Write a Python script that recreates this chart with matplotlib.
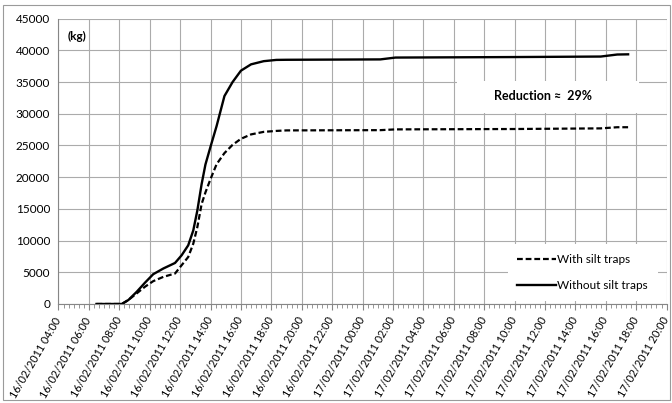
import datetime as dt
import matplotlib
matplotlib.use("Agg")
import matplotlib.pyplot as plt
import matplotlib.dates as mdates
import matplotlib.transforms as mtransforms
from matplotlib.patches import Rectangle

# ---------------- data ---------------- #
times = ["16/02/2011 06:30", "16/02/2011 08:10", "16/02/2011 08:36", "16/02/2011 09:09",
         "16/02/2011 09:41", "16/02/2011 10:14", "16/02/2011 10:54", "16/02/2011 11:40",
         "16/02/2011 12:06", "16/02/2011 12:32", "16/02/2011 12:52", "16/02/2011 13:08",
         "16/02/2011 13:25", "16/02/2011 13:40", "16/02/2011 14:00", "16/02/2011 14:24",
         "16/02/2011 14:55", "16/02/2011 15:27", "16/02/2011 16:00", "16/02/2011 16:40",
         "16/02/2011 17:30", "16/02/2011 18:20", "16/02/2011 19:00", "17/02/2011 01:10",
         "17/02/2011 02:10", "17/02/2011 10:00", "17/02/2011 15:40", "17/02/2011 16:45",
         "17/02/2011 17:28"]

without_traps = [0, 0, 630, 1930, 3340, 4700, 5600, 6470, 7680, 9250, 11600, 14730,
                 18920, 22000, 24800, 28060, 32800, 35000, 36800, 37800, 38300, 38500,
                 38520, 38580, 38870, 38950, 39030, 39350, 39380]

with_traps = [0, 0, 630, 1680, 2710, 3600, 4280, 4810, 6110, 7410, 9510, 12120,
              15780, 17600, 19700, 22050, 23800, 25100, 26050, 26750, 27150, 27300,
              27380, 27420, 27540, 27600, 27700, 27880, 27880]

x_start = "16/02/2011 04:00"
x_end = "17/02/2011 20:00"
y_ticks = list(range(0, 45001, 5000))

fmt = "%d/%m/%Y %H:%M"
t = [dt.datetime.strptime(s, fmt) for s in times]

plt.rcParams['font.family'] = ['Lato', 'DejaVu Sans']

fig = plt.figure(figsize=(6.72, 4.03), dpi=100)
ax = fig.add_axes([0.087, 0.2457, 0.905, 0.7079])

# chart area border
fig.patches.append(Rectangle((3 / 672, 3 / 403), 667 / 672, 395 / 403, transform=fig.transFigure,
                             fill=False, edgecolor='#9a9a9a', linewidth=0.8))

ax.plot(t, with_traps, color='black', linewidth=1.6, linestyle=(0, (2.6, 1.3)),
        label='With silt traps', zorder=3)
ax.plot(t, without_traps, color='black', linewidth=1.7, label='Without silt traps', zorder=3)

ax.set_xlim(dt.datetime.strptime(x_start, fmt), dt.datetime.strptime(x_end, fmt))
ax.set_ylim(0, 45000)
ax.set_yticks(y_ticks)

ax.xaxis.set_major_locator(mdates.HourLocator(byhour=range(0, 24, 2)))
ax.xaxis.set_minor_locator(mdates.MinuteLocator(byminute=[0, 20, 40]))
ax.xaxis.set_major_formatter(mdates.DateFormatter(fmt))
ax.tick_params(axis='x', which='major', labelsize=7.8, length=4, color='#868686', pad=4)
ax.tick_params(axis='x', which='minor', length=3, color='#868686')
ax.tick_params(axis='y', labelsize=8.5, length=0, pad=6)

# rotated date labels, pulled left so their ends sit at the ticks
shift = mtransforms.ScaledTranslation(-5 / 100, 0, fig.dpi_scale_trans)
for lab in ax.get_xticklabels():
    lab.set_rotation(60)
    lab.set_ha('right')
    lab.set_va('top')
    lab.set_rotation_mode('anchor')
    lab.set_transform(lab.get_transform() + shift)

ax.set_axisbelow(True)
ax.grid(True, which='major', color='#ababab', linewidth=0.8)
for s in ['top', 'right']:
    ax.spines[s].set_visible(False)
for s in ['left', 'bottom']:
    ax.spines[s].set_color('#868686')

# white boxes behind annotation and legend
ax.add_patch(Rectangle((0.655, 0.67), 0.30, 0.11, transform=ax.transAxes,
                       facecolor='white', edgecolor='none', zorder=1))
ax.text(0.797, 0.729, 'Reduction \u2248  29%', transform=ax.transAxes, fontsize=9,
        fontweight='bold', ha='center', va='center', zorder=4)
ax.text(0.031, 0.936, '(kg)', transform=ax.transAxes, fontsize=8.5,
        fontweight='bold', ha='center', va='center')

leg = ax.legend(loc='lower right', bbox_to_anchor=(0.985, 0.012), fontsize=8.5,
                frameon=True, fancybox=False, framealpha=1, edgecolor='none',
                handlelength=3.3, handletextpad=0.1, labelspacing=1.3,
                borderaxespad=0, borderpad=0.8)

fig.savefig("out.png", dpi=100)
